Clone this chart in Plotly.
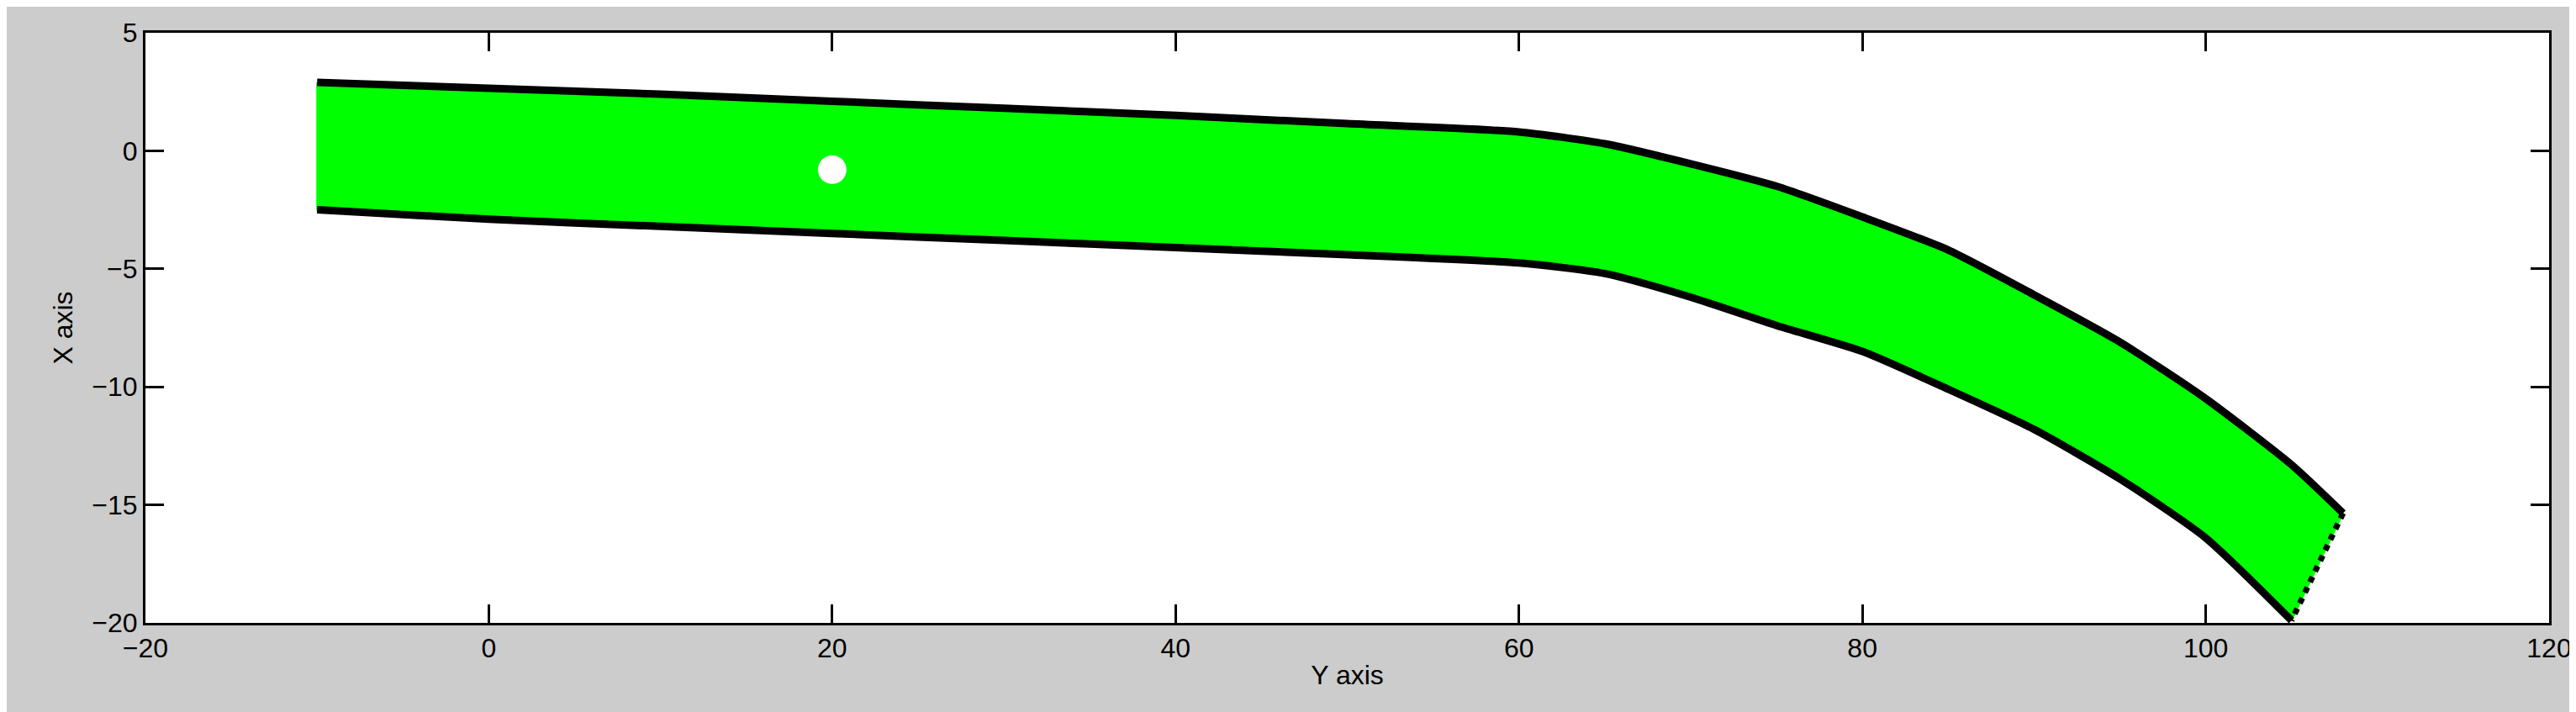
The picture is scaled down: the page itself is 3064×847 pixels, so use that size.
import plotly.graph_objects as go

# boundary samples (horizontal = "Y axis", vertical = "X axis")
upper_y = [-10, 0, 10, 20, 30, 40, 50, 60, 65, 70, 75, 80, 85, 90, 95, 100, 105, 108]
upper_x = [2.9, 2.65, 2.4, 2.1, 1.8, 1.5, 1.15, 0.8, 0.3, -0.55, -1.5, -2.8, -4.2, -6.1, -8.1, -10.5, -13.3, -15.35]
lower_y = [-10, 0, 10, 20, 30, 40, 50, 60, 65, 70, 75, 80, 85, 90, 95, 100, 105]
lower_x = [-2.5, -2.9, -3.2, -3.5, -3.8, -4.1, -4.4, -4.75, -5.2, -6.2, -7.4, -8.5, -10.1, -11.8, -13.9, -16.4, -19.9]
hole_y = [20]
hole_x = [-0.8]

poly_y = upper_y + lower_y[::-1]
poly_x = upper_x + lower_x[::-1]

fig = go.Figure()
# green band (straight polygon so the corners stay sharp)
fig.add_trace(go.Scatter(x=poly_y + [poly_y[0]], y=poly_x + [poly_x[0]], fill="toself",
                         fillcolor="#00ff00", mode="lines", line=dict(color="#00ff00", width=2),
                         hoverinfo="skip"))
fig.add_trace(go.Scatter(x=hole_y, y=hole_x, mode="markers",
                         marker=dict(color="white", size=[34], symbol="circle", opacity=1,
                                     line=dict(width=0)),
                         hoverinfo="skip"))
# ends of the band
fig.add_trace(go.Scatter(x=[upper_y[-1], lower_y[-1]], y=[upper_x[-1], lower_x[-1]], mode="lines",
                         line=dict(color="black", width=7, dash="dot")))
fig.add_trace(go.Scatter(x=upper_y, y=upper_x, mode="lines",
                         line=dict(color="black", width=9, shape="spline", smoothing=0.6)))
fig.add_trace(go.Scatter(x=lower_y, y=lower_x, mode="lines",
                         line=dict(color="black", width=9, shape="spline", smoothing=0.6)))

axis = dict(showgrid=False, zeroline=False, showline=True, mirror="ticks", linecolor="black",
            linewidth=3, ticks="inside", ticklen=22, tickwidth=3, tickcolor="black",
            tickfont=dict(size=32, color="black"))
fig.update_layout(
    width=3064, height=847, showlegend=False,
    paper_bgcolor="#cccccc", plot_bgcolor="white",
    margin=dict(l=165, r=40, t=31, b=114),
    font=dict(family="Liberation Sans Narrow, Arial Narrow, Liberation Sans, Arial", color="black"),
    xaxis=dict(axis, range=[-20, 120], dtick=20,
               title=dict(text="Y axis", font=dict(size=32), standoff=4)),
    yaxis=dict(axis, range=[-20, 5], dtick=5,
               title=dict(text="X axis", font=dict(size=32), standoff=14)),
)
fig.write_html("out.html")
